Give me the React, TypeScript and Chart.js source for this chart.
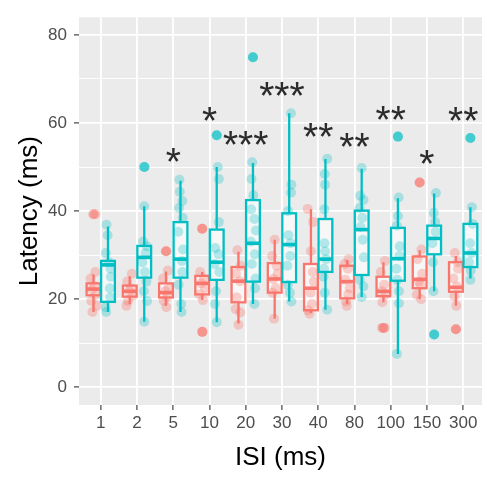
import React, { useEffect, useRef } from 'react';
import { Chart, registerables } from 'chart.js';

Chart.register(...registerables);

const FONT = '"Liberation Sans", Arial, sans-serif';

const categories = ['1', '2', '5', '10', '20', '30', '40', '80', '100', '150', '300'];
const yTickValues = [0, 10, 20, 30, 40, 50, 60, 70, 80];

// Box statistics, group "red"
const redLow = [17.1, 18.9, 18.5, 19.8, 14.5, 15.6, 16.9, 18.9, 19.3, 20.0, 18.5];
const redQ1 = [20.9, 20.6, 20.4, 21.1, 19.3, 21.5, 17.5, 20.2, 20.7, 22.5, 21.7];
const redMed = [22.3, 21.8, 21.5, 23.6, 24.1, 24.6, 22.5, 24.0, 21.8, 24.5, 22.7];
const redQ3 = [23.6, 23.1, 23.6, 25.3, 27.3, 28.2, 28.0, 27.6, 25.1, 29.7, 28.4];
const redHigh = [25.6, 25.2, 26.3, 26.2, 30.8, 33.5, 40.4, 28.9, 28.4, 31.1, 29.8];

// Box statistics, group "teal"
const tealLow = [17.1, 14.9, 17.1, 14.8, 18.9, 19.5, 17.6, 20.5, 7.6, 21.8, 24.7];
const tealQ1 = [19.4, 24.9, 24.9, 24.4, 24.0, 23.9, 26.2, 25.5, 24.2, 30.2, 27.3];
const tealMed = [27.8, 29.5, 29.1, 28.4, 32.7, 32.4, 29.1, 35.8, 29.2, 33.8, 30.5];
const tealQ3 = [28.7, 32.1, 37.5, 35.8, 42.5, 39.5, 38.2, 40.1, 36.2, 36.7, 37.1];
const tealHigh = [36.5, 41.1, 46.9, 50.0, 50.9, 62.2, 51.8, 49.6, 42.9, 44.0, 40.9];

// Boxplot outliers: [category index, value]
const redOutliers = [[0, 39.3], [2, 30.9], [3, 36.0], [3, 12.6], [8, 13.5], [9, 46.5], [10, 13.2]];
const tealOutliers = [[1, 50.0], [3, 57.2], [4, 74.9], [8, 56.9], [9, 12.0], [10, 56.6]];

// Raw observations (jittered points)
const redPoints = [
  [39.3, 26.2, 24.7, 23.0, 22.2, 21.0, 19.6, 18.5, 17.1],
  [25.8, 24.0, 22.5, 21.8, 20.8, 19.6, 18.5],
  [30.9, 26.5, 24.7, 22.5, 21.8, 20.5, 19.6, 18.2],
  [36.0, 26.2, 24.7, 23.6, 22.5, 21.1, 19.8, 12.6],
  [31.1, 27.6, 25.8, 24.1, 20.4, 17.8, 17.0, 14.2],
  [33.5, 29.8, 27.6, 25.8, 24.6, 22.5, 21.5, 15.6],
  [40.5, 37.5, 30.9, 26.2, 24.0, 21.5, 18.9, 17.5, 16.7],
  [29.1, 28.0, 26.9, 24.4, 22.5, 21.1, 19.5, 18.5],
  [28.7, 26.2, 23.3, 21.8, 21.1, 19.3, 13.5, 13.5],
  [46.5, 31.3, 29.1, 25.8, 24.0, 23.3, 21.0, 20.0],
  [30.5, 28.4, 26.9, 24.7, 22.9, 20.7, 18.5, 13.2],
];
const redJitter = [
  [0.06, 0.05, -0.08, 0.02, -0.04, 0.07, -0.06, 0.09, -0.03],
  [0.06, -0.07, 0.03, -0.02, 0.08, -0.05, -0.09],
  [0.01, 0.05, -0.08, 0.07, -0.02, 0.03, -0.06, 0.01],
  [0.0, -0.06, 0.05, -0.03, 0.08, -0.08, 0.02, 0.01],
  [-0.03, 0.06, -0.07, 0.04, -0.05, -0.08, 0.05, 0.0],
  [0.0, -0.07, 0.05, 0.08, -0.04, 0.03, -0.06, -0.02],
  [-0.09, 0.06, 0.0, 0.05, 0.08, -0.01, 0.03, -0.08, -0.04],
  [0.04, -0.07, 0.02, -0.05, 0.07, 0.03, -0.03, -0.01],
  [0.04, -0.07, 0.02, -0.05, 0.07, -0.03, -0.04, 0.03],
  [0.0, 0.05, -0.06, 0.07, -0.03, 0.02, -0.08, 0.04],
  [-0.03, 0.05, 0.06, -0.07, 0.03, -0.04, 0.01, 0.0],
];
const tealPoints = [
  [36.9, 34.5, 30.5, 28.4, 27.0, 25.1, 22.5, 20.4, 18.2, 17.1],
  [50.0, 41.1, 33.1, 32.0, 30.5, 28.4, 26.2, 24.0, 21.8, 19.6, 14.9],
  [47.1, 44.4, 42.3, 40.7, 38.5, 35.3, 31.3, 28.7, 26.2, 23.3, 18.9, 17.1],
  [57.2, 50.0, 47.3, 37.5, 31.6, 30.2, 28.0, 26.2, 21.8, 18.9, 14.8],
  [74.9, 51.1, 47.3, 43.6, 40.4, 38.2, 35.6, 33.1, 30.2, 28.0, 24.7, 22.5, 18.9],
  [62.2, 46.0, 44.2, 40.0, 34.5, 32.7, 29.8, 27.6, 23.3, 21.5, 19.5],
  [51.9, 48.4, 46.0, 40.4, 32.7, 30.9, 29.1, 26.9, 25.1, 21.5, 17.6],
  [49.8, 43.5, 42.5, 40.7, 38.5, 36.4, 33.5, 29.5, 24.4, 22.9, 20.5],
  [56.9, 43.1, 38.9, 36.7, 32.0, 29.8, 26.9, 24.4, 21.8, 19.1, 7.6],
  [44.1, 39.6, 37.5, 35.3, 32.7, 28.4, 21.8, 12.0],
  [56.6, 40.9, 37.1, 32.7, 30.5, 28.4, 26.5, 24.4],
];
const tealJitter = [
  [-0.04, -0.01, -0.06, 0.03, 0.07, 0.08, 0.05, 0.06, -0.07, -0.05],
  [0.01, 0.0, -0.03, 0.07, 0.04, -0.05, 0.02, 0.06, -0.01, 0.08, 0.0],
  [-0.03, -0.02, 0.05, -0.04, 0.06, -0.06, 0.07, 0.04, 0.05, -0.05, 0.02, 0.03],
  [0.0, 0.03, 0.06, 0.06, -0.04, 0.05, -0.06, 0.07, -0.02, -0.05, 0.0],
  [0.0, -0.02, -0.04, 0.01, -0.05, 0.04, 0.08, -0.06, 0.05, -0.03, 0.07, 0.06, 0.04],
  [0.05, 0.06, 0.05, -0.03, -0.02, 0.04, 0.03, -0.05, -0.04, 0.02, 0.06],
  [0.05, -0.02, -0.01, -0.03, -0.03, -0.01, 0.02, -0.04, -0.05, -0.02, 0.05],
  [0.0, -0.04, 0.05, -0.06, 0.02, -0.03, 0.03, 0.06, -0.05, 0.05, 0.0],
  [0.0, 0.02, 0.0, -0.03, 0.05, 0.04, -0.04, -0.02, 0.03, 0.03, -0.03],
  [0.05, -0.01, 0.03, 0.04, -0.05, -0.03, -0.02, 0.0],
  [0.0, 0.04, 0.06, -0.01, 0.03, -0.04, 0.01, 0.0],
];

// Significance annotations
const starLabels = ['', '', '*', '*', '***', '***', '**', '**', '**', '*', '**'];
const starY = [0, 0, 50.2, 59.6, 54.2, 65.1, 55.9, 53.7, 59.8, 49.8, 59.6];

const RED = '#F8766D';
const TEAL = '#00BFC4';
const DODGE = 0.2;
const HALF = 0.19;

const groups = [
  { shift: -DODGE, color: RED, low: redLow, q1: redQ1, med: redMed, q3: redQ3, high: redHigh },
  { shift: DODGE, color: TEAL, low: tealLow, q1: tealQ1, med: tealMed, q3: tealQ3, high: tealHigh },
];

const panelPlugin = {
  id: 'panel',
  beforeDraw(chart: any) {
    const { ctx, chartArea: a } = chart;
    ctx.save();
    ctx.fillStyle = '#EBEBEB';
    ctx.fillRect(a.left, a.top, a.right - a.left, a.bottom - a.top);
    ctx.restore();
  },
};

const boxPlugin = {
  id: 'boxes',
  beforeDatasetsDraw(chart: any) {
    const { ctx } = chart;
    const x = chart.scales.x;
    const y = chart.scales.y;
    ctx.save();
    groups.forEach((g) => {
      categories.forEach((_, i) => {
        const c = i + g.shift;
        const l = x.getPixelForValue(c - HALF);
        const r = x.getPixelForValue(c + HALF);
        const m = x.getPixelForValue(c);
        const pLow = y.getPixelForValue(g.low[i]);
        const pQ1 = y.getPixelForValue(g.q1[i]);
        const pMed = y.getPixelForValue(g.med[i]);
        const pQ3 = y.getPixelForValue(g.q3[i]);
        const pHigh = y.getPixelForValue(g.high[i]);
        ctx.strokeStyle = g.color;
        ctx.lineWidth = 2.3;
        ctx.beginPath();
        ctx.moveTo(m, pQ3);
        ctx.lineTo(m, pHigh);
        ctx.moveTo(m, pQ1);
        ctx.lineTo(m, pLow);
        ctx.stroke();
        ctx.fillStyle = 'rgba(255,255,255,0.6)';
        ctx.fillRect(l, pQ3, r - l, pQ1 - pQ3);
        ctx.strokeRect(l, pQ3, r - l, pQ1 - pQ3);
        ctx.lineWidth = 3.6;
        ctx.beginPath();
        ctx.moveTo(l, pMed);
        ctx.lineTo(r, pMed);
        ctx.stroke();
      });
    });
    ctx.restore();
  },
};

const starPlugin = {
  id: 'stars',
  afterDatasetsDraw(chart: any) {
    const { ctx } = chart;
    const x = chart.scales.x;
    const y = chart.scales.y;
    const size = 39;
    ctx.save();
    ctx.fillStyle = '#2B2B2B';
    ctx.font = `${size}px ${FONT}`;
    ctx.textAlign = 'center';
    ctx.textBaseline = 'alphabetic';
    starLabels.forEach((s, i) => {
      if (!s) return;
      ctx.fillText(s, x.getPixelForValue(i), y.getPixelForValue(starY[i]) + 9);
    });
    ctx.restore();
  },
};

function jitterData(points: number[][], jitter: number[][], shift: number) {
  const out: { x: number; y: number }[] = [];
  points.forEach((vals, i) => {
    vals.forEach((v, k) => out.push({ x: i + shift + jitter[i][k], y: v }));
  });
  return out;
}

function outlierData(list: number[][], shift: number) {
  return list.map(([i, v]) => ({ x: i + shift, y: v }));
}

export default function App() {
  const ref = useRef<HTMLCanvasElement>(null);
  useEffect(() => {
    const chart = new Chart(ref.current as HTMLCanvasElement, {
      type: 'scatter',
      data: {
        datasets: [
          {
            data: outlierData(redOutliers, -DODGE),
            backgroundColor: 'rgba(248,118,109,0.6)',
            pointRadius: 5,
            borderWidth: 0,
            order: 2,
          },
          {
            data: outlierData(tealOutliers, DODGE),
            backgroundColor: 'rgba(0,191,196,0.6)',
            pointRadius: 5,
            borderWidth: 0,
            order: 2,
          },
          {
            data: jitterData(redPoints, redJitter, -DODGE),
            backgroundColor: 'rgba(248,118,109,0.33)',
            pointRadius: 5,
            borderWidth: 0,
            order: 1,
          },
          {
            data: jitterData(tealPoints, tealJitter, DODGE),
            backgroundColor: 'rgba(0,191,196,0.28)',
            pointRadius: 5,
            borderWidth: 0,
            order: 1,
          },
        ],
      } as any,
      options: {
        responsive: false,
        animation: false,
        events: [],
        layout: { padding: { top: 2, right: 0, bottom: 0, left: 0 } },
        plugins: { legend: { display: false }, tooltip: { enabled: false } },
        scales: {
          x: {
            type: 'linear',
            min: -0.6,
            max: 10.52,
            bounds: 'data',
            afterBuildTicks: (s: any) => {
              s.ticks = categories.map((_, i) => ({ value: i }));
            },
            afterFit: (s: any) => {
              s.height = 74;
            },
            ticks: {
              callback: (v: any) => categories[v] ?? '',
              color: '#4D4D4D',
              font: { family: FONT, size: 17 },
              padding: 3,
              maxRotation: 0,
              autoSkip: false,
            },
            grid: {
              color: '#FFFFFF',
              lineWidth: 1.8,
              tickColor: '#333333',
              tickLength: 5,
              tickWidth: 1.1,
            },
            border: { display: false },
            title: {
              display: true,
              text: 'ISI (ms)',
              color: '#000000',
              font: { family: FONT, size: 26 },
              padding: { top: 0, bottom: 6 },
            },
          },
          y: {
            type: 'linear',
            min: -4,
            max: 84,
            bounds: 'data',
            afterBuildTicks: (s: any) => {
              s.ticks = yTickValues.map((v) => ({ value: v }));
            },
            afterFit: (s: any) => {
              s.width = 79;
            },
            ticks: {
              callback: (v: any) => (v % 20 === 0 ? String(v) : ''),
              color: '#4D4D4D',
              font: { family: FONT, size: 17 },
              padding: 7,
            },
            grid: {
              color: '#FFFFFF',
              lineWidth: (c: any) => (c.tick && c.tick.value % 20 === 0 ? 1.8 : 0.9),
              tickColor: (c: any) => (c.tick && c.tick.value % 20 === 0 ? '#333333' : 'rgba(0,0,0,0)'),
              tickLength: 5,
              tickWidth: 1.1,
            },
            border: { display: false },
            title: {
              display: true,
              text: 'Latency (ms)',
              color: '#000000',
              font: { family: FONT, size: 26 },
              padding: { top: 14, bottom: 0 },
            },
          },
        },
      } as any,
      plugins: [panelPlugin, boxPlugin, starPlugin],
    });
    return () => chart.destroy();
  }, []);
  return (
    <div style={{ position: 'fixed', left: 0, top: 0, width: 487, height: 479, background: '#FFFFFF' }}>
      <canvas ref={ref} width={487} height={479} style={{ display: 'block', width: 487, height: 479 }} />
    </div>
  );
}
